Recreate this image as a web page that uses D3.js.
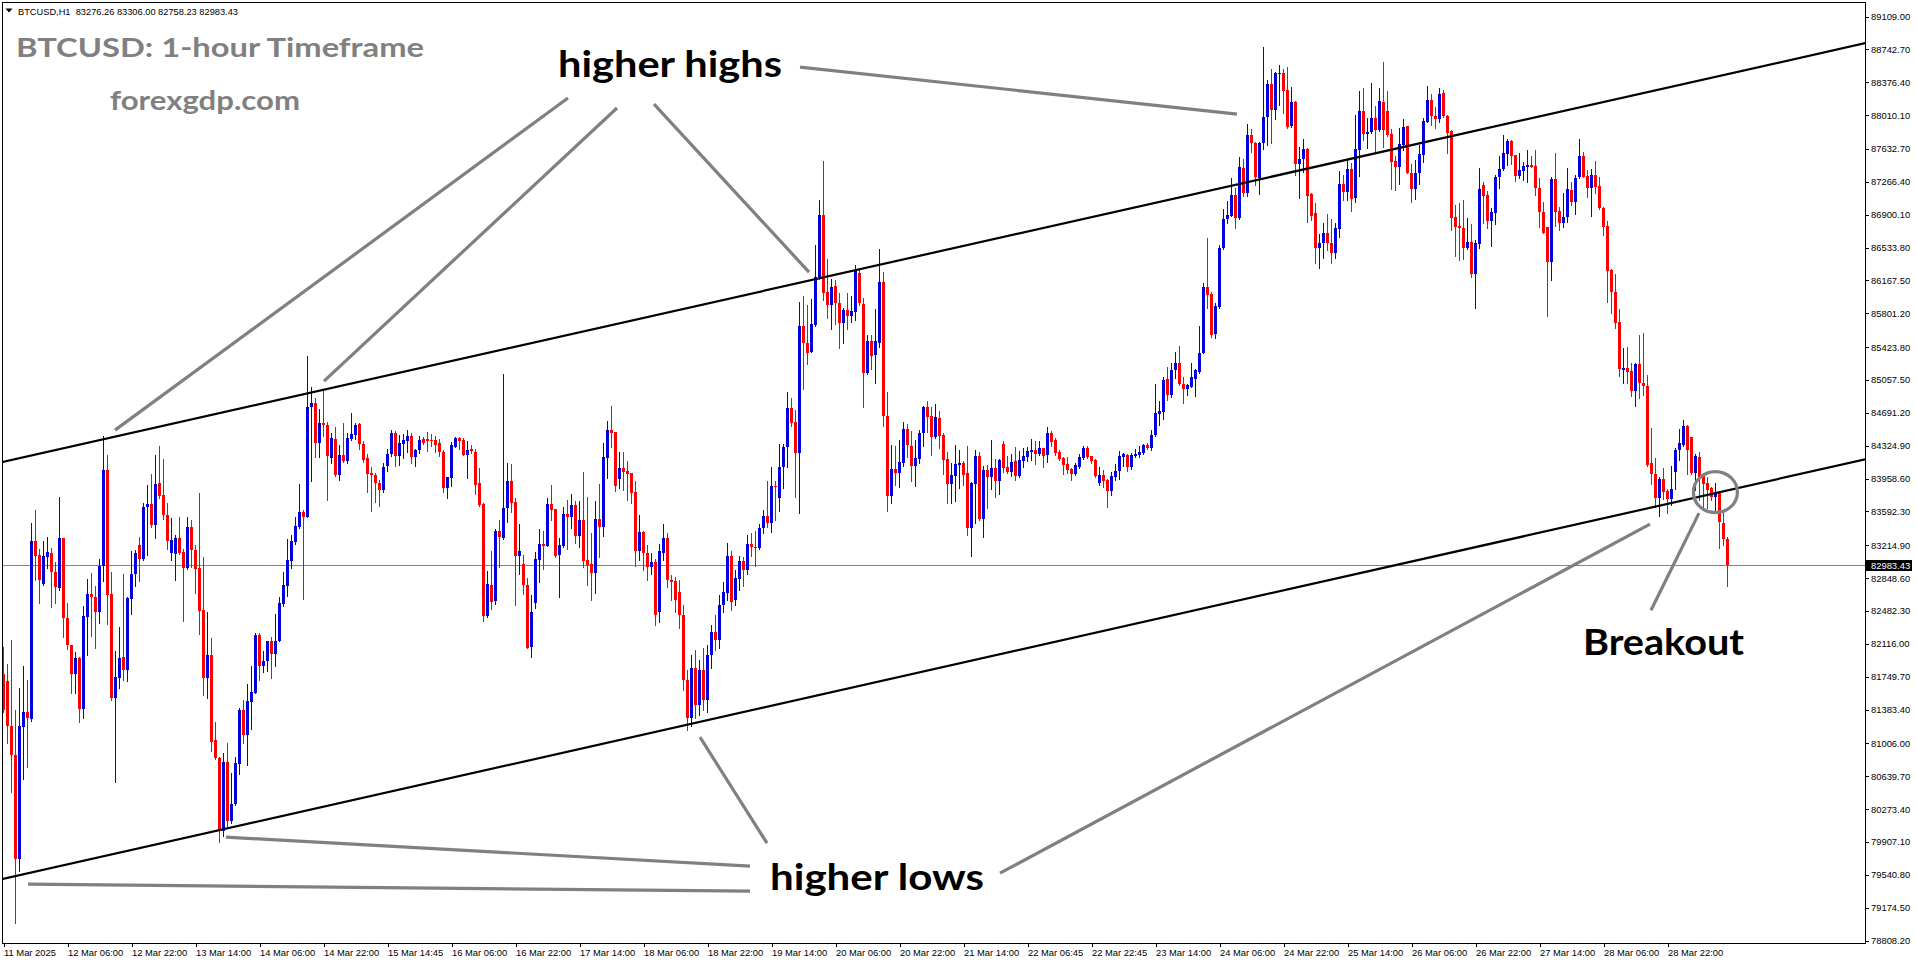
<!DOCTYPE html>
<html><head><meta charset="utf-8">
<script src="https://cdn.jsdelivr.net/npm/d3@7"></script>
<style>html,body{margin:0;padding:0;background:#fff;overflow:hidden}</style>
</head><body><svg id="c" width="1916" height="964"></svg>
<script>
// ---------------- DATA ----------------
const symbolHeader = "BTCUSD,H1  83276.26 83306.00 82758.23 82983.43";
const titleText = "BTCUSD: 1-hour Timeframe";
const siteText = "forexgdp.com";

const opens = [
81770,81693,81193,80867,79713,81182,81355,81270,83258,83097,
82778,83078,83120,82912,82731,83285,82393,82097,81770,81955,
81378,82405,82662,82635,82462,82981,84046,82662,81501,81732,
81962,81816,82605,82885,83212,83051,83635,83666,83435,83900,
83770,83547,83124,83116,83285,83131,82954,83412,83154,82951,
82482,81732,81989,81040,80840,80028,80790,80136,80321,80771,
81367,81090,81463,81566,82205,81866,81916,82136,82001,82136,
82558,82751,83031,83243,83412,83575,83527,84746,84798,84352,
84575,84549,84184,84393,83991,84214,84151,84389,84437,84560,
84337,84177,84017,83991,83906,83824,84092,84225,84463,84203,
84337,84374,84426,84188,84270,84389,84389,84381,84381,84344,
84251,83850,83961,84307,84400,84381,84214,84277,84251,83898,
83668,82419,82765,82590,83367,83292,83627,83924,83694,83088,
83002,82765,82077,82568,83043,83222,83203,83668,83608,83099,
83199,83556,83527,83657,83315,83489,83043,82998,82905,83507,
83414,84187,84492,84466,83953,84065,84039,84009,83805,83147,
83359,83128,82961,83024,82463,83128,83292,82827,82812,82686,
82430,81705,81281,81839,81426,81817,81482,81984,82240,82151,
82541,82678,83087,82597,82838,83035,82931,83228,83191,83180,
83396,83533,83459,83868,83738,84076,84299,84734,84578,84232,
85652,85459,85366,85663,86195,86890,86035,85886,86098,85912,
85682,85830,85763,85812,86239,85894,85132,85485,85329,85459,
86146,84649,83760,84057,84017,84128,84504,84318,84095,84173,
84455,84753,84649,84418,84630,84437,84165,83890,83979,84102,
84128,84009,83403,83897,84206,83500,84046,83965,84065,83927,
84336,84084,84028,84147,83979,84150,84195,84251,84269,84225,
84288,84214,84463,84381,84243,84177,84110,84057,84002,84084,
84184,84288,84202,84158,83905,83991,83935,83816,83972,84035,
84195,84214,84084,84202,84214,84240,84325,84295,84437,84671,
84697,85057,84883,85162,85243,85002,84950,84976,85058,85143,
85355,86091,86005,85563,85860,86526,86842,86883,87113,86853,
87418,87139,87782,87689,87299,87689,87979,88351,88061,88470,
88470,88284,87882,88154,87459,87511,87626,87121,86909,86526,
86574,86686,86582,86463,86734,87236,87150,87403,87083,87615,
88050,87793,87812,87975,87838,88154,88050,87789,87492,87429,
87671,87882,87362,87176,87355,87559,87931,88172,87994,87957,
88254,87998,87827,86864,86767,86741,86525,86585,86232,86566,
87224,87113,86823,86916,87310,87399,87566,87715,87555,87325,
87384,87429,87447,87436,87187,86927,86752,86369,87287,86938,
86797,86864,87168,87038,87310,87548,87325,87194,87336,87213,
86964,86767,86276,86035,85700,85161,85187,85154,84931,85228,
85020,84987,84121,84002,83738,83942,83816,83723,84020,84269,
84325,84541,84411,84009,84195,83979,83905,83842,83749,83793,
83459,83276.26];

const highs = [
82078,81886,82155,81367,81616,81859,81705,83454,83604,83162,
83254,83297,83181,83020,83743,83289,82570,82097,82020,81962,
82528,82828,82905,82751,83058,84431,84212,82912,82032,82297,
82885,82630,83143,83151,83297,83685,83877,84000,84212,84319,
84173,83681,83508,83327,83520,83166,83520,83489,83212,83789,
83078,82462,82174,81243,80847,80897,81001,80674,80847,81393,
81482,81666,81866,82232,82228,82028,82143,82182,82443,82628,
82916,83281,83320,83520,83893,83601,85318,84976,84846,84723,
84932,84586,84463,84523,84326,84575,84456,84686,84575,84567,
84374,84225,84084,84017,83935,84121,84277,84493,84485,84437,
84448,84493,84463,84277,84426,84419,84474,84448,84426,84389,
84270,83972,84363,84411,84419,84400,84374,84326,84277,84073,
83675,82924,83147,83385,83489,85117,84121,84114,83731,83445,
83099,82839,82653,83136,83389,83367,83731,83880,83615,83285,
83638,83712,83779,83705,83705,84025,83750,83347,83701,83890,
84351,84593,84764,84475,84251,84243,84147,84015,83923,83544,
83365,83210,83128,83061,83228,83451,83351,82875,82857,82827,
82541,81817,81984,82040,81928,82062,82095,82318,82430,82653,
82801,83236,83143,82931,83087,83080,83321,83340,83370,83451,
83600,83923,84076,83927,84336,84336,84912,84853,84715,85916,
85986,85886,85949,86555,87057,87492,86399,86172,86165,86016,
85849,86016,85986,86332,86295,85960,85552,85552,85838,86511,
86250,84920,84325,84318,84381,84585,84559,84481,84381,84492,
84760,84819,84745,84782,84704,84455,84243,84121,84325,84269,
84147,84318,83916,84269,84251,84095,84102,84381,84165,84165,
84370,84206,84225,84307,84258,84288,84307,84392,84370,84370,
84295,84530,84485,84399,84269,84195,84195,84072,84121,84221,
84314,84314,84206,84165,84076,84046,83946,84028,84113,84262,
84240,84225,84232,84277,84314,84333,84351,84492,85005,84816,
85080,85191,85236,85359,85429,85087,85006,85236,85169,85652,
86136,86630,86035,85905,86556,86957,87046,87306,87187,87541,
87511,87905,87849,87708,87708,88767,88395,88514,88488,88563,
88514,88537,88314,88161,87652,87738,87633,87132,87028,86678,
86805,86901,86842,86805,87384,87336,87503,87466,88005,88273,
88303,87975,88366,88106,88303,88600,88273,87845,87548,87856,
87957,87886,87459,87503,87671,87968,88329,88239,88098,88303,
88284,88005,87835,87002,87020,87057,86852,86789,86611,87410,
87261,87161,86964,87336,87548,87782,87733,87726,87559,87585,
87484,87615,87548,87615,87299,87038,86760,87317,87577,86981,
87139,87418,87261,87336,87737,87588,87391,87399,87492,87317,
86983,86823,86285,86232,85841,85403,85414,85243,85243,85552,
85578,85106,84511,84176,83972,84072,83831,84091,84295,84500,
84604,84548,84418,84225,84251,84009,83972,83860,83905,83805,
83582,83306.00];

const lows = [
81347,81001,80463,79002,79579,80598,80732,81251,82820,82566,
82770,82951,82520,82566,82712,82182,82051,81566,81559,81243,
81282,81989,82193,82059,82347,82808,82328,81482,80567,81616,
81705,81693,82443,82751,82808,83039,83097,83412,83289,83731,
83500,83162,83039,82816,83116,82359,82943,82962,82674,82220,
81540,81501,80913,80830,79898,79963,80059,80117,80309,80655,
81009,80763,81155,81559,81705,81797,81809,81732,81866,82136,
82528,82643,82951,83220,83404,82605,83527,83928,84188,84188,
84426,83712,84121,83980,83935,84140,84129,84381,84389,84277,
84140,83805,83593,83694,83649,83805,84039,84203,84092,84103,
84177,84251,84129,84092,84240,84337,84262,84315,84251,84203,
83805,83731,83868,84300,84277,84210,83961,84240,83779,83645,
82367,82404,82493,82553,82962,83274,83471,83582,82542,82887,
82664,82058,81958,82504,82802,82943,83199,83489,83080,82634,
83192,83166,83404,83229,83185,82969,82765,82600,82682,83080,
83310,83964,84299,83816,83849,83823,83712,83682,82976,83043,
82931,82820,82883,82319,82352,83043,82745,82597,82463,82285,
81594,81148,81193,81281,81315,81371,81348,81839,82040,82062,
82463,82600,82486,82541,82708,82756,82883,83087,82983,83162,
83347,83414,83359,83489,83593,83849,84076,84537,83749,83563,
84946,85224,85360,85650,86180,85942,85737,85615,85674,85410,
85466,85615,85700,85719,85886,84745,85120,85169,85020,85421,
84537,83593,83682,83879,83861,84095,84195,83924,83872,84128,
84318,84474,84214,84407,84288,84002,83682,83682,83704,83842,
83879,83322,83087,83452,83489,83303,83626,83831,83749,83779,
84020,84017,83979,83935,83965,84084,84150,84158,84113,84220,
84084,84139,84318,84214,84158,84002,84009,83935,83991,84065,
84169,84177,84121,83972,83879,83853,83637,83768,83935,83942,
84091,84035,84057,84188,84188,84225,84277,84269,84430,84548,
84615,84827,84864,85069,84994,84790,84883,84970,84876,85124,
85350,85849,85533,85515,85850,86515,86805,86875,86749,86842,
87102,87106,87596,87225,87121,87622,87671,87689,87957,88117,
88024,87856,87875,87336,87076,87373,86816,86834,86351,86303,
86407,86500,86351,86407,86648,87057,87057,86938,87039,87325,
87726,87641,87805,87607,87830,87652,87771,87176,87169,87236,
87615,87355,87039,87065,87236,87485,87925,87894,87856,87931,
87987,87585,86723,86433,86388,86395,86507,86202,85856,86518,
86797,86741,86544,86789,87187,87391,87447,87455,87273,87299,
87280,87261,87421,87113,86752,86685,85767,86165,86767,86722,
86760,86815,87001,86901,87300,87310,87094,86882,87139,86953,
86667,85923,85793,85626,85098,85013,85013,84871,84764,84853,
84883,84095,83897,83637,83537,83730,83563,83656,83831,84158,
84315,84002,84002,83823,83712,83637,83619,83712,83600,83173,
83210,82758.23];

const closes = [
81367,81193,80867,79713,81193,81355,81282,83258,83089,82820,
83089,83135,82912,82739,83285,82397,82097,81770,81951,81378,
82424,82662,82635,82462,82981,84046,82655,81501,81739,81951,
81816,82616,82885,83120,83051,83635,83666,83435,83893,83758,
83547,83251,83262,83285,83124,82954,83412,83154,82943,82474,
81732,81989,81020,80840,80028,80790,80136,80328,80782,81367,
81090,81470,81578,82205,81866,81924,82136,82001,82147,82570,
82762,83039,83251,83424,83577,83527,84746,84798,84352,84575,
84549,84203,84400,83991,84214,84151,84407,84448,84549,84337,
84158,84002,83991,83898,83824,84084,84225,84456,84203,84344,
84381,84426,84188,84270,84381,84352,84374,84370,84326,84251,
83850,83965,84326,84400,84374,84214,84270,84259,83880,83657,
82419,82776,82579,83370,83303,83619,83924,83683,83088,83144,
82765,82066,82467,83054,83222,83203,83668,83601,83092,83211,
83556,83527,83657,83315,83489,83036,82988,82905,83507,83414,
84195,84492,84462,83871,84065,84028,83998,83793,83147,83359,
83128,82961,83024,82430,83147,83292,82827,82801,82597,82430,
81705,81281,81839,81426,81817,81482,81984,82240,82151,82541,
82689,83087,82575,82846,83035,82931,83228,83184,83180,83396,
83533,83459,83868,83853,84076,84299,84734,84574,84232,85652,
85459,85347,85674,86195,86890,86024,85886,86083,85912,85682,
85830,85763,85819,86265,85905,85132,85485,85317,85485,86146,
84649,83760,84057,84017,84132,84504,84325,84095,84184,84463,
84753,84641,84418,84641,84425,84158,83890,83991,84113,84128,
83991,83403,83905,84206,83500,84046,83965,84065,83927,84158,
84072,84028,84132,83983,84158,84202,84258,84269,84225,84288,
84202,84463,84362,84240,84165,84102,84046,84002,84102,84195,
84295,84195,84150,83983,83991,83924,83816,83979,84035,84206,
84221,84084,84214,84225,84251,84325,84295,84437,84678,84704,
85050,84883,85162,85243,85002,84950,84994,85080,85162,85355,
86091,85998,85552,85875,86518,86842,86890,87113,86860,87429,
87139,87782,87689,87318,87697,87979,88351,88061,88477,88477,
88277,87875,88154,87459,87511,87626,87106,86879,86526,86582,
86686,86574,86463,86741,87236,87150,87403,87065,87626,88050,
87793,87812,87975,87838,88161,87838,87782,87485,87429,87678,
87868,87362,87176,87362,87570,87938,88172,87994,87957,88239,
87994,87808,86860,86760,86741,86525,86585,86232,86574,87180,
87102,86823,86919,87317,87399,87577,87715,87548,87325,87391,
87436,87447,87429,87187,86927,86693,86369,87287,86927,86797,
86864,87180,87038,87299,87548,87317,87194,87336,87206,86964,
86760,86269,86035,85689,85169,85187,85143,84931,85228,85013,
84987,84102,84002,83738,83953,83805,83723,83831,84269,84351,
84541,84269,84009,84206,83972,83897,83823,83749,83805,83470,
83273,82983.43];

const priceTicks = [89109.00,88742.70,88376.40,88010.10,87632.70,87266.40,86900.10,86533.80,86167.50,85801.20,
  85423.80,85057.50,84691.20,84324.90,83958.60,83592.30,83214.90,82848.60,82482.30,82116.00,81749.70,
  81383.40,81006.00,80639.70,80273.40,79907.10,79540.80,79174.50,78808.20];

const timeLabels = ["11 Mar 2025","12 Mar 06:00","12 Mar 22:00","13 Mar 14:00","14 Mar 06:00","14 Mar 22:00",
  "15 Mar 14:45","16 Mar 06:00","16 Mar 22:00","17 Mar 14:00","18 Mar 06:00","18 Mar 22:00","19 Mar 14:00",
  "20 Mar 06:00","20 Mar 22:00","21 Mar 14:00","22 Mar 06:45","22 Mar 22:45","23 Mar 14:00","24 Mar 06:00",
  "24 Mar 22:00","25 Mar 14:00","26 Mar 06:00","26 Mar 22:00","27 Mar 14:00","28 Mar 06:00","28 Mar 22:00"];
const barsPerLabel = 16;

// trend channel lines: [barIndex, price]
const upperChannel = [[-0.25, 84136], [465.75, 88808]];
const lowerChannel = [[-0.25, 79486], [465.75, 84169]];

// annotation pointers: [[bar, price],[bar, price]]
const pointers = [
  [[141.25, 88194], [28, 84492]],
  [[153.5, 88083], [80.25, 85039]],
  [[162.75, 88127], [201.5, 86254]],
  [[199.25, 88540], [308.5, 88016]],
  [[186.75, 79631], [55.75, 79955]],
  [[186.75, 79352], [6.25, 79430]],
  [[191, 79888], [174.25, 81069]],
  [[249.25, 79553], [411.75, 83444]],
  [[412, 82485], [424, 83567]]
];
const breakoutCircle = [428.1, 83801];

const labels = [
  {text: "higher highs", bar: 138.75, price: 88428, len: 224},
  {text: "higher lows", bar: 191.75, price: 79363, len: 214},
  {text: "Breakout", bar: 395, price: 81984, len: 161}
];

// ---------------- DRAW ----------------
const W = 1916, H = 964;
const BLUE = "#0000dd", RED = "#ff0000";
const svg = d3.select("#c");
svg.append("rect").attr("width", W).attr("height", H).attr("fill", "#fff");

const x = d3.scaleLinear().domain([0, 431]).range([3, 1727]);
const y = d3.scaleLinear().domain([78808.2, 89109]).range([940, 16]);

svg.append("clipPath").attr("id", "plot").append("rect")
  .attr("x", 3).attr("y", 3).attr("width", 1862).attr("height", 940);
const plot = svg.append("g").attr("clip-path", "url(#plot)");

const lastClose = closes[closes.length - 1];
const bidY = Math.round(y(lastClose)) + 0.5;
plot.append("line").attr("x1", 3).attr("x2", 1866).attr("y1", bidY).attr("y2", bidY)
  .attr("stroke", "#778899").attr("stroke-width", 1).attr("shape-rendering", "crispEdges");

const candles = d3.range(closes.length).map(i => ({i, o: opens[i], h: highs[i], l: lows[i], c: closes[i]}));
const cg = plot.append("g").attr("shape-rendering", "crispEdges");
const col = d => d.c >= d.o ? BLUE : RED;
cg.selectAll("line").data(candles).join("line")
  .attr("x1", d => Math.round(x(d.i)) + 0.5).attr("x2", d => Math.round(x(d.i)) + 0.5)
  .attr("y1", d => Math.round(y(d.h))).attr("y2", d => Math.round(y(d.l)) + 1)
  .attr("stroke", col).attr("stroke-width", 1);
cg.selectAll("rect").data(candles).join("rect")
  .attr("x", d => Math.round(x(d.i)) - 1).attr("width", 3)
  .attr("y", d => Math.round(y(Math.max(d.o, d.c))))
  .attr("height", d => Math.max(1, Math.round(y(Math.min(d.o, d.c))) - Math.round(y(Math.max(d.o, d.c)))))
  .attr("fill", col);

const line = d3.line().x(d => x(d[0])).y(d => y(d[1]));
[upperChannel, lowerChannel].forEach(ch => {
  plot.append("path").attr("d", line(ch)).attr("stroke", "#000").attr("stroke-width", 2.2).attr("fill", "none");
});

pointers.forEach(p => {
  plot.append("path").attr("d", line(p)).attr("stroke", "#808080").attr("stroke-width", 3.2)
    .attr("fill", "none");
});
plot.append("ellipse").attr("cx", x(breakoutCircle[0])).attr("cy", y(breakoutCircle[1]))
  .attr("rx", 22).attr("ry", 20.5).attr("fill", "none").attr("stroke", "#808080").attr("stroke-width", 3.2);

labels.forEach(l => {
  plot.append("text").attr("x", x(l.bar)).attr("y", y(l.price)).text(l.text)
    .attr("font-family", "Lato, 'Open Sans', sans-serif").attr("font-weight", 700)
    .attr("font-size", 36).attr("fill", "#000")
    .attr("textLength", l.len).attr("lengthAdjust", "spacingAndGlyphs");
});

// frame
svg.append("rect").attr("x", 2.5).attr("y", 2.5).attr("width", 1863).attr("height", 940.5)
  .attr("fill", "none").attr("stroke", "#000").attr("stroke-width", 1).attr("shape-rendering", "crispEdges");

const axisFont = "'Liberation Sans', Arial, sans-serif";
// right price axis
const ya = svg.append("g").attr("transform", "translate(1866,0.5)")
  .call(d3.axisRight(y).tickValues(priceTicks).tickFormat(d3.format(".2f")).tickSize(3).tickPadding(2));
ya.select(".domain").remove();
ya.selectAll("line").attr("stroke", "#000").attr("shape-rendering", "crispEdges");
ya.selectAll("text").attr("font-family", axisFont).attr("font-size", 9.4).attr("fill", "#000");

// current price label
svg.append("rect").attr("x", 1866).attr("y", Math.round(y(lastClose)) - 5).attr("width", 46).attr("height", 11)
  .attr("fill", "#000");
svg.append("text").attr("x", 1871).attr("y", Math.round(y(lastClose)) + 4).text(d3.format(".2f")(lastClose))
  .attr("font-family", axisFont).attr("font-size", 9.4).attr("fill", "#fff");

// bottom time axis
const labelBars = timeLabels.map((t, i) => i * barsPerLabel);
const xa = svg.append("g").attr("transform", "translate(0.5,943)")
  .call(d3.axisBottom(x).tickValues(labelBars).tickFormat((d, i) => timeLabels[i]).tickSize(4));
xa.select(".domain").remove();
xa.selectAll("line").attr("stroke", "#000").attr("shape-rendering", "crispEdges");
xa.selectAll("text").attr("text-anchor", "start").attr("x", 0).attr("y", 13).attr("dy", 0)
  .attr("font-family", axisFont).attr("font-size", 9.4).attr("fill", "#000");

// header
svg.append("path").attr("d", "M5.5,8.5 L12.5,8.5 L9,12.5 Z").attr("fill", "#000");
svg.append("text").attr("x", 18).attr("y", 14.5).text(symbolHeader)
  .attr("font-family", axisFont).attr("font-size", 9.4).attr("fill", "#000")
  .style("white-space", "pre").attr("textLength", 220).attr("lengthAdjust", "spacingAndGlyphs");

// title & site
svg.append("text").attr("x", 16).attr("y", 57).text(titleText)
  .attr("font-family", "Lato, 'Open Sans', sans-serif").attr("font-weight", 700).attr("font-size", 27)
  .attr("fill", "#808080").attr("textLength", 408).attr("lengthAdjust", "spacingAndGlyphs");
svg.append("text").attr("x", 110).attr("y", 110).text(siteText)
  .attr("font-family", "Lato, 'Open Sans', sans-serif").attr("font-weight", 700).attr("font-size", 27)
  .attr("fill", "#808080").attr("textLength", 190).attr("lengthAdjust", "spacingAndGlyphs");
</script>
</body></html>
